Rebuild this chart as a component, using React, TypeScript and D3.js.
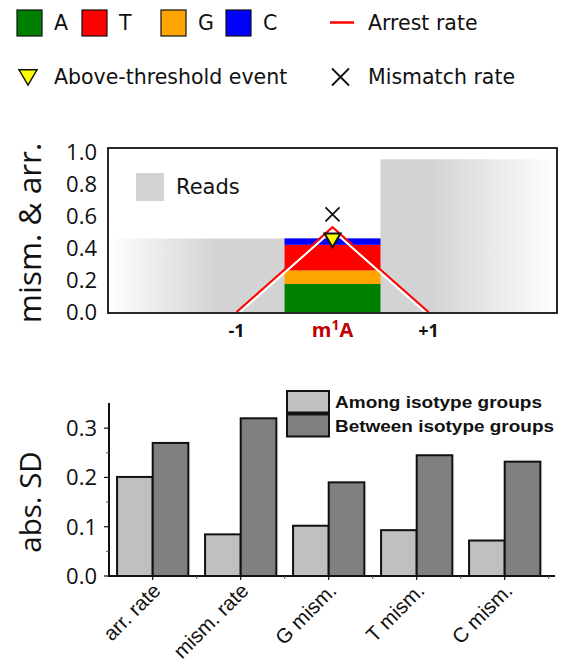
import React from "react";
import * as d3 from "d3";

// ---- top panel data ----
const positions = [-2, -1, 0, 1, 2];
const readsFraction = [0.46, 0.46, 0.46, 0.955, 0.955];
const baseNames = ["A", "G", "T", "C"];
const baseColors = ["#008000", "#FFA500", "#FF0000", "#0000FF"];
const baseMismatch = [0.175, 0.085, 0.16, 0.04]; // stacked at the modified site
const arrestPositions = [-1, 0, 1];
const arrestRate = [0, 0.53, 0];
const mismatchRate = 0.61;
const eventLevel = 0.45;
const topTicks = [0, 0.2, 0.4, 0.6, 0.8, 1.0];
const siteLabels = ["-1", "m1A", "+1"];

// ---- bottom panel data ----
const measures = ["arr. rate", "mism. rate", "G mism.", "T mism.", "C mism."];
const amongSD = [0.201, 0.0845, 0.102, 0.093, 0.072];
const betweenSD = [0.27, 0.32, 0.19, 0.245, 0.232];
const sdTicks = [0, 0.1, 0.2, 0.3];
const sdMinorTicks = [0.05, 0.15, 0.25];

const W = 566;
const H = 664;
const TICK_FONT = "'Open Sans', 'Noto Sans', sans-serif";
const LEG_FONT = "'DejaVu Sans', sans-serif";
const ARIAL = "'Liberation Sans', Arial, sans-serif";

export default function App() {
  // top panel scales
  const tx = d3.scaleLinear().domain([-2.34, 2.34]).range([108, 557]);
  const ty = d3.scaleLinear().domain([0, 1]).range([312, 152]);
  const unit = tx(1) - tx(0);

  const stack = d3
    .stack<number[]>()
    .keys(baseNames.map((_, i) => String(i)))
    .value((d, k) => d[+k])([baseMismatch]);

  const arrestLine = d3
    .line<number>()
    .x((_, i) => tx(arrestPositions[i]))
    .y((d) => ty(d));

  // read coverage drawn as one stepped area so the fade is seamless
  const readEdges = positions
    .map((p, i) => ({ x: p - 0.5, y: readsFraction[i] }))
    .concat([{ x: positions[positions.length - 1] + 0.5, y: readsFraction[readsFraction.length - 1] }]);
  const readsArea = d3
    .area<{ x: number; y: number }>()
    .curve(d3.curveStepAfter)
    .x((d) => tx(d.x))
    .y0(ty(0))
    .y1((d) => ty(d.y));

  // bottom panel scales
  const bx = d3
    .scaleBand<string>()
    .domain(measures)
    .range([108.7, 548.7])
    .paddingInner(0.19)
    .paddingOuter(0.095);
  const sub = d3
    .scaleBand<string>()
    .domain(["among", "between"])
    .range([0, bx.bandwidth()]);
  const by = d3.scaleLinear().domain([0, 0.35]).range([576, 403.5]);

  const legendSquares = [
    { name: "A", color: "#008000", x: 17, tx: 54 },
    { name: "T", color: "#FF0000", x: 82, tx: 119 },
    { name: "G", color: "#FFA500", x: 161, tx: 198 },
    { name: "C", color: "#0000FF", x: 226, tx: 263 },
  ];

  const triPath = (cx: number, cy: number, s: number) =>
    `M${cx - s},${cy - s * 0.8}L${cx + s},${cy - s * 0.8}L${cx},${cy + s * 0.9}Z`;
  const crossPath = (cx: number, cy: number, s: number) =>
    `M${cx - s},${cy - s}L${cx + s},${cy + s}M${cx - s},${cy + s}L${cx + s},${cy - s}`;

  const step = bx.step();

  return (
    <svg
      width={W}
      height={H}
      style={{ position: "absolute", left: 0, top: 0, background: "#fff" }}
    >
      <defs>
        <linearGradient id="readsFade" gradientUnits="userSpaceOnUse" x1={108} x2={557} y1={0} y2={0}>
          <stop offset={0} stopColor="#ffffff" />
          <stop offset={(217 - 108) / 449} stopColor="#d3d3d3" />
          <stop offset={(430 - 108) / 449} stopColor="#d3d3d3" />
          <stop offset={1} stopColor="#ffffff" />
        </linearGradient>
        <clipPath id="topClip">
          <rect x={108} y={148} width={449} height={165} />
        </clipPath>
      </defs>

      {/* legend, first row */}
      {legendSquares.map((s) => (
        <g key={s.name}>
          <rect x={s.x} y={10} width={25} height={26} fill={s.color} stroke="#111" strokeWidth={1.2} />
          <text x={s.tx} y={30} fontFamily={LEG_FONT} fontSize={20.5} fill="#111">
            {s.name}
          </text>
        </g>
      ))}
      <line x1={330} x2={354} y1={22.5} y2={22.5} stroke="#FF0000" strokeWidth={2.5} />
      <text x={368} y={30} fontFamily={LEG_FONT} fontSize={20.5} fill="#111">
        Arrest rate
      </text>
      {/* legend, second row */}
      <path d={triPath(28, 77, 9)} fill="#FFFF00" stroke="#111" strokeWidth={1.5} />
      <text x={54} y={84} fontFamily={LEG_FONT} fontSize={20.5} fill="#111">
        Above-threshold event
      </text>
      <path d={crossPath(340.5, 77, 8.5)} stroke="#111" strokeWidth={1.8} fill="none" />
      <text x={368} y={84} fontFamily={LEG_FONT} fontSize={20.5} fill="#111">
        Mismatch rate
      </text>

      {/* top panel */}
      <g clipPath="url(#topClip)">
        <path d={readsArea(readEdges) || ""} fill="url(#readsFade)" />
        {stack.map((layer, i) => (
          <rect
            key={i}
            x={tx(-0.5)}
            y={ty(layer[0][1])}
            width={unit}
            height={ty(layer[0][0]) - ty(layer[0][1])}
            fill={baseColors[i]}
          />
        ))}
        <path
          d={arrestLine(arrestRate) || ""}
          transform="translate(0,3)"
          fill="none"
          stroke="#ffffff"
          strokeWidth={2.2}
        />
        <path d={arrestLine(arrestRate) || ""} fill="none" stroke="#FF0000" strokeWidth={2} />
        <path d={triPath(tx(0), ty(eventLevel), 8)} fill="#FFFF00" stroke="#111" strokeWidth={2} />
        <path d={crossPath(tx(0), ty(mismatchRate), 7)} stroke="#111" strokeWidth={1.8} fill="none" />
      </g>
      <rect x={108} y={148} width={449} height={165} fill="none" stroke="#111" strokeWidth={1.8} />
      <rect x={136} y={173} width={28} height={28} fill="#d3d3d3" />
      <text x={176} y={194} fontFamily={LEG_FONT} fontSize={21} fill="#111">
        Reads
      </text>
      {topTicks.map((t) => (
        <text
          key={t}
          x={97}
          y={ty(t)}
          dy="0.36em"
          textAnchor="end"
          fontFamily={TICK_FONT}
          fontSize={22}
          fill="#111"
        >
          {t.toFixed(1)}
        </text>
      ))}
      <text
        transform={`translate(41,233) rotate(-90)`}
        textAnchor="middle"
        fontFamily={TICK_FONT}
        fontSize={31.5}
        fill="#111"
      >
        mism. &amp; arr.
      </text>
      {arrestPositions.map((p, i) => (
        <text
          key={p}
          x={tx(p)}
          y={337}
          textAnchor="middle"
          fontFamily={TICK_FONT}
          fontWeight="bold"
          fontSize={p === 0 ? 20 : 18}
          fill={p === 0 ? "#C00000" : "#111"}
        >
          {p === 0 ? (
            <>
              m<tspan dy={-7} fontSize={14}>1</tspan>
              <tspan dy={7}>A</tspan>
            </>
          ) : (
            siteLabels[i]
          )}
        </text>
      ))}

      {/* bottom panel */}
      {measures.map((m, i) => (
        <g key={m} transform={`translate(${bx(m)},0)`}>
          <rect
            x={sub("among")}
            y={by(amongSD[i])}
            width={sub.bandwidth()}
            height={by(0) - by(amongSD[i])}
            fill="#C0C0C0"
            stroke="#111"
            strokeWidth={2}
          />
          <rect
            x={sub("between")}
            y={by(betweenSD[i])}
            width={sub.bandwidth()}
            height={by(0) - by(betweenSD[i])}
            fill="#808080"
            stroke="#111"
            strokeWidth={2}
          />
        </g>
      ))}
      <line x1={109} x2={109} y1={403} y2={577} stroke="#111" strokeWidth={2} />
      <line x1={108} x2={555} y1={576} y2={576} stroke="#111" strokeWidth={2} />
      {sdTicks.map((t) => (
        <g key={t}>
          <line x1={104} x2={109} y1={by(t)} y2={by(t)} stroke="#111" strokeWidth={1.2} />
          <text
            x={97}
            y={by(t)}
            dy="0.36em"
            textAnchor="end"
            fontFamily={TICK_FONT}
            fontSize={22}
            fill="#111"
          >
            {t.toFixed(1)}
          </text>
        </g>
      ))}
      {sdMinorTicks.map((t) => (
        <line key={t} x1={106} x2={109} y1={by(t)} y2={by(t)} stroke="#555" strokeWidth={1} />
      ))}
      {measures.map((m) => {
        const c = (bx(m) as number) + bx.bandwidth() / 2;
        return (
          <g key={m}>
            <line x1={c} x2={c} y1={576} y2={580} stroke="#111" strokeWidth={1.2} />
            <line x1={c + step / 2} x2={c + step / 2} y1={576} y2={579} stroke="#555" strokeWidth={1} />
            <text
              transform={`translate(${c + 9},592) rotate(-45)`}
              textAnchor="end"
              fontFamily={ARIAL}
              fontSize={20.5}
              fill="#111"
            >
              {m}
            </text>
          </g>
        );
      })}
      <text
        transform={`translate(41,502) rotate(-90)`}
        textAnchor="middle"
        fontFamily={TICK_FONT}
        fontSize={29.5}
        fill="#111"
      >
        abs. SD
      </text>

      {/* bottom legend */}
      <rect x={287} y={391} width={42} height={22.5} fill="#C0C0C0" stroke="#111" strokeWidth={2} />
      <rect x={287} y={413.5} width={42} height={23} fill="#808080" stroke="#111" strokeWidth={2} />
      <line x1={287} x2={329} y1={413.5} y2={413.5} stroke="#111" strokeWidth={4} />
      <text
        x={335}
        y={408}
        fontFamily={ARIAL}
        fontWeight="bold"
        fontSize={17}
        textLength={207}
        lengthAdjust="spacingAndGlyphs"
        fill="#111"
      >
        Among isotype groups
      </text>
      <text
        x={335}
        y={431.5}
        fontFamily={ARIAL}
        fontWeight="bold"
        fontSize={17}
        textLength={219}
        lengthAdjust="spacingAndGlyphs"
        fill="#111"
      >
        Between isotype groups
      </text>
    </svg>
  );
}
